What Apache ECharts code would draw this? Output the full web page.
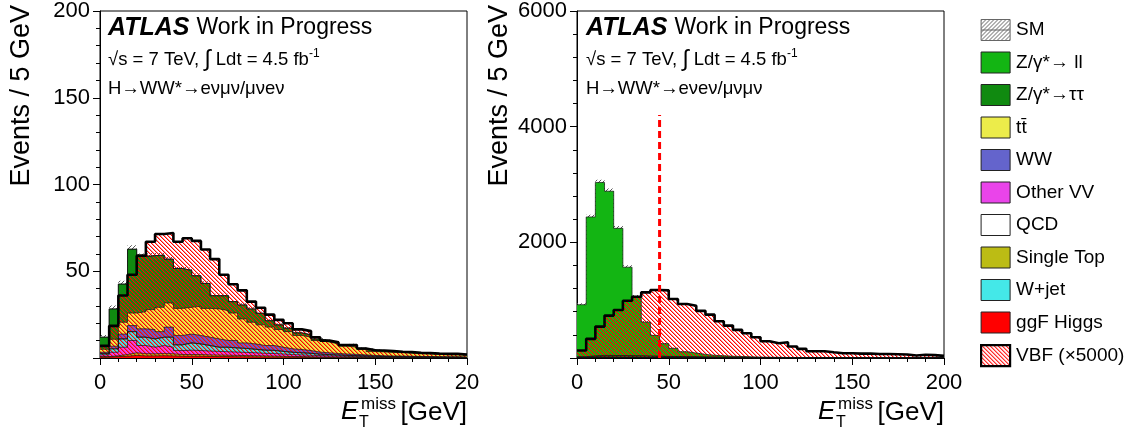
<!DOCTYPE html>
<html><head><meta charset="utf-8">
<script src="https://cdn.jsdelivr.net/npm/echarts@6/dist/echarts.min.js"></script>
<style>html,body{margin:0;padding:0;background:#fff}#c{width:1138px;height:432px}</style>
</head><body><div id="c"></div>
<script>
// ---------- data ----------
const binEdges = [0,5,10,15,20,25,30,35,40,45,50,55,60,65,70,75,80,85,90,95,100,105,110,115,120,125,130,135,140,145,150,155,160,165,170,175,180,185,190,195,200];
const xTickLabelsLeft = ['0','50','100','150','20'];
const xTickLabelsRight = ['0','50','100','150','200'];
const legendNames = ['SM','Z/γ*→ ll','Z/γ*→ττ','tt̄','WW','Other VV','QCD','Single Top','W+jet','ggF Higgs','VBF (×5000)'];

// left panel: H->WW*->evmv/mvev
const ggF_L = [0.5,0.8,1,1.5,1.2,1.2,1.3,1.2,1,1, 1,0.9,0.8,0.8,0.7,0.7,0.6,0.6,0.5,0.5, 0.4,0.4,0.3,0.3,0.3,0.2,0.2,0.2,0.2,0.1, 0.1,0.1,0.1,0.1,0.1,0.05,0.05,0.05,0.05,0.05];
const singleTop_L = [0.3,0.5,1,1.5,1.3,1.2,1.3,1.2,1,1, 1,0.9,0.9,0.8,0.8,0.7,0.7,0.6,0.6,0.5, 0.5,0.4,0.4,0.3,0.3,0.3,0.2,0.2,0.2,0.2, 0.15,0.15,0.1,0.1,0.1,0.1,0.1,0.1,0.1,0.05];
const otherVV_L = [1,2,4.2,7.1,4.7,3.8,4.6,3.8,2.3,2.5, 2.3,2.2,2.1,2,1.9,1.8,1.7,1.5,1.5,1.3, 1.1,1,0.9,0.8,0.7,0.6,0.5,0.5,0.4,0.3, 0.3,0.3,0.3,0.25,0.2,0.2,0.2,0.15,0.15,0.15];
const wjet_L = [0.7,2,4.8,5.1,4.8,4.8,4.8,5.8,3.3,4.2, 3.8,3.2,2.4,2.6,2.4,2.3,2,1.8,1.8,1.5, 1.3,1.2,1.1,0.8,0.7,0.6,0.6,0.5,0.4,0.4, 0.3,0.25,0.25,0.2,0.2,0.2,0.15,0.15,0.15,0.1];
const qcd_L = [0,0,0,0,0,0,0,0,0,0, 0,0,0,0,0,0,0,0,0,0, 0,0,0,0,0,0,0,0,0,0, 0,0,0,0,0,0,0,0,0,0];
const ww_L = [0.8,1.5,2.8,3.5,4.8,5.4,3.2,5.8,5.4,5.1, 4.9,4.8,4.8,3.9,4.3,3.2,3.1,2.7,2.8,2.4, 2,1.9,1.6,1.2,1,0.9,0.8,0.7,0.6,0.5, 0.45,0.4,0.4,0.35,0.3,0.3,0.25,0.25,0.25,0.2];
const ttbar_L = [1.7,4,6.8,7.2,9.9,11.5,14,13.9,15.6,15.4, 16.8,16.6,17.3,17.2,15.8,13.8,12.5,11.9,10.6,10.2, 9.9,8.1,7.7,6.7,6.2,5.5,4.5,4.1,3.1,2.2, 2.2,2,1.9,1.7,1.5,1.4,1.3,1.2,1.2,1];
const ztautau_L = [7,17.5,22,36.8,31.8,31.1,30.1,25.3,23,21.3, 17.6,14.4,7.6,8.6,6.6,8.1,7.7,6.7,3.7,2.7, 2,1.5,1.4,0.9,0.8,1,0.7,1.6,0.7,1.1, 0.7,0.6,0.55,0.5,0.4,0.35,0.35,0.3,0.3,0.25];
const zll_L = [0,0,0,0,0,0,0,0,0,0, 0,0,0,0,0,0,0,0,0,0, 0,0,0,0,0,0,0,0,0,0, 0,0,0,0,0,0,0,0,0,0];
const smErr_L = [1.2,1.9,1.9,2.3,1.8,1.6,1.6,1.5,1.4,1.4, 1.3,1.2,1.1,1.1,1,1,0.9,0.9,0.8,0.8, 0.7,0.7,0.6,0.6,0.5,0.5,0.5,0.5,0.4,0.4, 0.4,0.4,0.3,0.3,0.3,0.3,0.3,0.3,0.3,0.3];
const vbf_L = [7,18.5,36,48,59,67,71.5,72,67,69, 67.5,62.5,57,48,42.5,39,32.5,29,25,22, 20,16.5,15.5,12,10,9,7.5,7.5,5.5,4.5, 4.3,4,3.6,3.5,3,2.9,2.6,2.4,2.4,2];

// right panel: H->WW*->evev/mvmv
const ggF_R = [1,2,3,3,3,3,3,3,3,2, 2,2,1,1,1,1,1,1,1,0, 0,0,0,0,0,0,0,0,0,0, 0,0,0,0,0,0,0,0,0,0];
const singleTop_R = [1,1,1,1,1,1,1,1,1,1, 1,1,1,0,0,0,0,0,0,0, 0,0,0,0,0,0,0,0,0,0, 0,0,0,0,0,0,0,0,0,0];
const otherVV_R = [2,3,3,3,3,3,2,2,2,2, 2,1,1,1,1,1,1,1,1,0, 0,0,0,0,0,0,0,0,0,0, 0,0,0,0,0,0,0,0,0,0];
const wjet_R = [3,4,4,4,3,3,3,2,2,2, 1,1,1,1,1,1,0,0,0,0, 0,0,0,0,0,0,0,0,0,0, 0,0,0,0,0,0,0,0,0,0];
const qcd_R = [0,0,0,0,0,0,0,0,0,0, 0,0,0,0,0,0,0,0,0,0, 0,0,0,0,0,0,0,0,0,0, 0,0,0,0,0,0,0,0,0,0];
const ww_R = [3,6,8,8,8,8,8,7,7,6, 6,5,5,4,4,3,3,3,2,2, 2,2,1,1,1,1,1,1,1,1, 0,0,0,0,0,0,0,0,0,0];
const ttbar_R = [4,8,11,13,14,14,15,14,13,12, 12,11,10,9,8,7,6,6,5,5, 4,4,3,3,3,2,2,2,2,1, 1,1,1,1,1,1,1,0,0,0];
const ztautau_R = [8,15,15,12,10,8,6,5,4,3, 3,2,2,1,1,1,1,1,0,0, 0,0,0,0,0,0,0,0,0,0, 0,0,0,0,0,0,0,0,0,0];
const zll_R = [900,2400,2990,2840,2200,1530,1025,585,360,220, 140,85,65,45,32,24,18,14,11,9, 7,6,5,4,3,3,2,2,2,1, 1,1,1,1,1,1,0,0,0,0];
const smErr_R = [25,40,45,45,40,33,27,20,15,12, 10,8,7,6,5,5,4,4,3,3, 3,3,2,2,2,2,2,2,1,1, 1,1,1,1,1,1,1,1,1,1];
const vbf_R = [129,331,543,733,830,991,1060,1135,1175,1170, 1020,934,905,815,750,635,560,486,428,359, 290,256,273,198,158,118,118,100,83,83, 75,75,70,70,65,60,43,55,50,37];
const cutValue_R = 45;
const cutTop_R = 4200;

// ---------- styling ----------
const FONT = "'Liberation Sans', Arial, sans-serif";
const NARROW = "'Liberation Sans Narrow', 'Liberation Sans', Arial, sans-serif";
// crisp pixel hatch: dir '\\' or '/', period s, per-offset alpha values
function hatch(rgb, dir, s, alphas) {
  const c = document.createElement('canvas'); c.width = s; c.height = s;
  const g = c.getContext('2d'); const img = g.createImageData(s, s);
  for (let y = 0; y < s; y++) for (let x = 0; x < s; x++) {
    const t = dir === '\\' ? ((x - y) % s + s) % s : (x + y) % s;
    const a = alphas[t] || 0;
    const o = (y * s + x) * 4; img.data[o] = rgb[0]; img.data[o+1] = rgb[1]; img.data[o+2] = rgb[2]; img.data[o+3] = a;
  }
  g.putImageData(img, 0, 0); return c;
}
const redHatch = { image: hatch([255, 0, 0], '\\', 4, [255, 110]), repeat: 'repeat' };
const grayHatch = { image: hatch([90, 90, 90], '/', 4, [255]), repeat: 'repeat' };

// stacking order: bottom -> top
const comps = [
  { name: 'ggF Higgs', color: '#ff0000', L: ggF_L, R: ggF_R },
  { name: 'Single Top', color: '#bcbc14', L: singleTop_L, R: singleTop_R },
  { name: 'Other VV', color: '#ea44ea', L: otherVV_L, R: otherVV_R },
  { name: 'W+jet', color: '#44e8e8', L: wjet_L, R: wjet_R },
  { name: 'QCD', color: '#ffffff', L: qcd_L, R: qcd_R },
  { name: 'WW', color: '#6464cc', L: ww_L, R: ww_R },
  { name: 'tt̄', color: '#ecec4a', L: ttbar_L, R: ttbar_R },
  { name: 'Z/γ*→ττ', color: '#108a10', L: ztautau_L, R: ztautau_R },
  { name: 'Z/γ*→ ll', color: '#13b513', L: zll_L, R: zll_R }
];

function stepData(vals) {
  const d = vals.map((v, i) => [binEdges[i], v]);
  d.push([binEdges[binEdges.length - 1], vals[vals.length - 1]]);
  return d;
}

const series = [];
[['L', 0, smErr_L, vbf_L], ['R', 1, smErr_R, vbf_R]].forEach(([key, idx, err, vbf]) => {
  const cum = [];
  comps.forEach((c, k) => {
    cum.push(c[key].map((v, i) => v + (k > 0 ? cum[k - 1][i] : 0)));
  });
  const total = cum[cum.length - 1];
  series.push({
    type: 'line', name: 'SM', xAxisIndex: idx, yAxisIndex: idx,
    step: 'end', symbol: 'none', data: stepData(total.map((v, i) => v + err[i])),
    lineStyle: { opacity: 0, width: 0 },
    areaStyle: { color: grayHatch, opacity: 1 }, silent: true
  });
  for (let k = comps.length - 1; k >= 0; k--) {
    series.push({
      type: 'line', name: comps[k].name, xAxisIndex: idx, yAxisIndex: idx,
      step: 'end', symbol: 'none', data: stepData(cum[k]),
      lineStyle: { color: '#111', width: 0.8, opacity: 0.85 },
      areaStyle: { color: comps[k].color, opacity: 1 }, silent: true
    });
  }
  series.push({
    type: 'line', name: 'VBF (×5000)', xAxisIndex: idx, yAxisIndex: idx,
    step: 'end', symbol: 'none', data: stepData(vbf),
    lineStyle: { color: '#000', width: 2.6 },
    areaStyle: { color: redHatch, opacity: 1 }, silent: true
  });
});
series.push({
  type: 'line', name: 'cut', xAxisIndex: 1, yAxisIndex: 1, symbol: 'none',
  data: [[cutValue_R, 0], [cutValue_R, cutTop_R]],
  lineStyle: { color: '#ff0000', width: 3, type: [7, 4] }, silent: true
});

function xAxis(idx, labels) {
  return {
    gridIndex: idx, type: 'value', min: 0, max: 200, interval: 50,
    axisLine: { lineStyle: { color: '#000', width: 1 } },
    axisTick: { show: true, inside: false, length: 7, lineStyle: { color: '#000' } },
    minorTick: { show: true, splitNumber: 5, length: 4, lineStyle: { color: '#000' } },
    splitLine: { show: false },
    axisLabel: { fontSize: 22, fontFamily: NARROW, color: '#000', margin: 14,
      formatter: v => labels[Math.round(v / 50)] }
  };
}
function yAxis(idx, max, interval) {
  return {
    gridIndex: idx, type: 'value', min: 0, max: max, interval: interval,
    axisLine: { show: true, lineStyle: { color: '#000', width: 1 } },
    axisTick: { show: true, inside: false, length: 7, lineStyle: { color: '#000' } },
    minorTick: { show: true, splitNumber: 5, length: 4, lineStyle: { color: '#000' } },
    splitLine: { show: false },
    axisLabel: { fontSize: 22, fontFamily: NARROW, color: '#000', margin: 10, showMinLabel: false,
      formatter: v => String(v) }
  };
}

const legendColors = {
  'SM': { color: grayHatch, borderColor: '#666', borderWidth: 1 },
  'VBF (×5000)': { color: redHatch, borderColor: '#000', borderWidth: 2.2 }
};
comps.forEach(c => { legendColors[c.name] = { color: c.color, borderColor: '#222', borderWidth: 1 }; });
const legendIcons = { 'SM': 'path://M0,0L29,0L29,21L0,21Z M0,10.5L29,10.5' };

function panelTexts(x, decay) {
  return [
    { type: 'text', x: x, y: 28, z: 100, style: {
      text: '{a|ATLAS }{b|Work in Progress}', verticalAlign: 'middle',
      rich: { a: { fontSize: 25, fontWeight: 'bold', fontStyle: 'italic', fontFamily: FONT, fill: '#000' },
              b: { fontSize: 23, fontFamily: FONT, fill: '#000' } } } },
    { type: 'text', x: x, y: 60, z: 100, style: {
      text: '{n|√s = 7 TeV, }{i|∫}{n| Ldt = 4.5 fb}{s|-1}', verticalAlign: 'middle',
      rich: { n: { fontSize: 18.5, fontFamily: FONT, fill: '#000', lineHeight: 24 },
              i: { fontSize: 23, fontFamily: FONT, fill: '#000', lineHeight: 24 },
              s: { fontSize: 12, fontFamily: FONT, fill: '#000', verticalAlign: 'top', lineHeight: 24 } } } },
    { type: 'text', x: x, y: 89, z: 100, style: { text: decay, fontSize: 18.5, fontFamily: FONT, fill: '#000', verticalAlign: 'middle' } }
  ];
}
function xTitle(xr) {
  return [
    { type: 'text', x: xr - 126, y: 412, z: 100, style: { text: 'E', fontSize: 26, fontStyle: 'italic', fontFamily: FONT, fill: '#000', verticalAlign: 'middle' } },
    { type: 'text', x: xr - 106, y: 404, z: 100, style: { text: 'miss', fontSize: 17, fontFamily: FONT, fill: '#000', verticalAlign: 'middle' } },
    { type: 'text', x: xr - 108, y: 423, z: 100, style: { text: 'T', fontSize: 16, fontFamily: FONT, fill: '#000', verticalAlign: 'middle' } },
    { type: 'text', x: xr, y: 413, z: 100, style: { text: '[GeV]', fontSize: 26, fontFamily: FONT, fill: '#000', align: 'right', verticalAlign: 'middle' } }
  ];
}
function yTitle(x) {
  return { type: 'text', x: x, y: 5, z: 100, rotation: Math.PI / 2,
    style: { text: 'Events / 5 GeV', fontSize: 27, fontFamily: FONT, fill: '#000', align: 'right', verticalAlign: 'middle' } };
}

const chart = echarts.init(document.getElementById('c'), null, { renderer: 'canvas' });
chart.setOption({
  animation: false,
  backgroundColor: '#fff',
  grid: [
    { left: 100, top: 10, width: 367, height: 348, show: true, borderColor: '#000', borderWidth: 1, backgroundColor: 'transparent' },
    { left: 577, top: 10, width: 367, height: 348, show: true, borderColor: '#000', borderWidth: 1, backgroundColor: 'transparent' }
  ],
  xAxis: [xAxis(0, xTickLabelsLeft), xAxis(1, xTickLabelsRight)],
  yAxis: [yAxis(0, 200, 50), yAxis(1, 6000, 2000)],
  legend: {
    orient: 'vertical', left: 975, top: 14, itemWidth: 29, itemHeight: 21, itemGap: 10.5,
    icon: 'rect', selectedMode: false,
    textStyle: { fontSize: 19, fontFamily: FONT, color: '#000', padding: [0, 0, 0, 1] },
    data: legendNames.map(n => ({ name: n, icon: legendIcons[n] || 'rect', itemStyle: legendColors[n] }))
  },
  graphic: [].concat(
    panelTexts(108, 'H→WW*→eνμν/μνeν'),
    panelTexts(586, 'H→WW*→eνeν/μνμν'),
    xTitle(467), xTitle(944),
    [yTitle(22), yTitle(500)]
  ),
  series: series
});
</script>
</body></html>
